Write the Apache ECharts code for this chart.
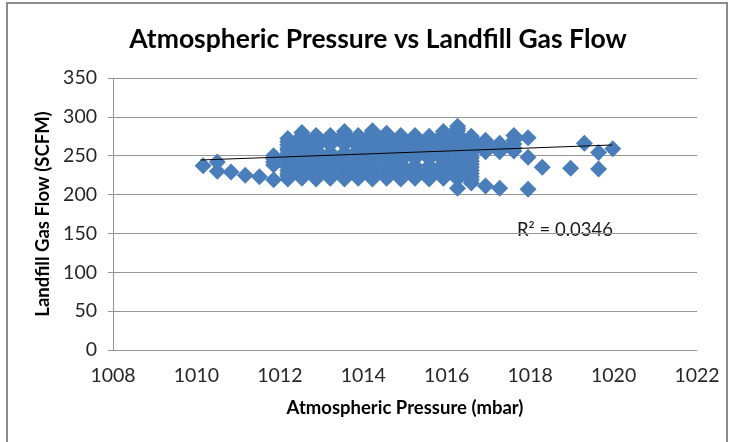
<!DOCTYPE html>
<html>
<head>
<meta charset="utf-8">
<script src="https://cdn.jsdelivr.net/npm/echarts@6/dist/echarts.min.js"></script>
<style>
  html, body { margin: 0; padding: 0; background: #fff; }
  #chart { width: 730px; height: 442px; }
</style>
</head>
<body>
<div id="chart"></div>
<script>
// ---- Data ----
const xTicks = [1008, 1010, 1012, 1014, 1016, 1018, 1020, 1022];
const yTicks = [0, 50, 100, 150, 200, 250, 300, 350];

// pressure columns (mbar) of the dense cloud
const colX = [1011.85, 1012.19, 1012.53, 1012.87, 1013.21, 1013.55, 1013.88, 1014.22,
              1014.56, 1014.90, 1015.24, 1015.58, 1015.92, 1016.26, 1016.59, 1016.93,
              1017.27, 1017.61, 1017.95];
// gas flow values (SCFM) observed in each column
const colY = [
  [219, 238, 242, 246, 250],
  [220, 224, 227, 231, 235, 238, 242, 246, 249, 253, 257, 260, 264, 268, 272],
  [221, 224, 228, 232, 235, 239, 243, 246, 250, 254, 258, 262, 265, 269, 273, 276, 280],
  [220, 224, 227, 231, 235, 239, 242, 246, 250, 254, 257, 261, 265, 269, 272, 276],
  [221, 224, 228, 232, 236, 239, 243, 247, 251, 254, 264, 267, 270, 273, 276],
  [220, 224, 228, 231, 235, 239, 243, 246, 250, 254, 264, 267, 271, 275, 278, 281],
  [221, 225, 228, 232, 236, 240, 243, 247, 251, 255, 258, 262, 266, 270, 273, 276],
  [220, 224, 228, 231, 235, 239, 243, 247, 250, 254, 258, 262, 266, 269, 273, 277, 280, 282],
  [221, 224, 228, 232, 236, 240, 244, 247, 251, 255, 259, 262, 266, 270, 274, 277, 279],
  [220, 224, 227, 231, 235, 239, 243, 246, 250, 254, 258, 262, 265, 269, 273, 276],
  [221, 225, 229, 233, 237, 246, 250, 254, 258, 262, 266, 269, 273, 276],
  [220, 224, 228, 232, 237, 246, 250, 253, 257, 261, 264, 268, 272, 275],
  [221, 225, 229, 232, 236, 240, 244, 248, 251, 255, 259, 263, 267, 270, 274, 278, 281],
  [208, 220, 224, 228, 232, 236, 240, 243, 247, 251, 255, 259, 263, 266, 270, 274, 278, 282, 285, 288],
  [215, 219, 223, 227, 231, 235, 239, 243, 247, 250, 254, 258, 262, 266, 270, 273, 275],
  [211, 255, 259, 263, 267, 270],
  [208, 255, 259, 262, 266],
  [256, 260, 265, 270, 276],
  [207, 248, 273]
];
// isolated points
const outlierX = [1010.16, 1010.50, 1010.50, 1010.83, 1011.17, 1011.51, 1018.29, 1018.97, 1019.30, 1019.64, 1019.64, 1019.98];
const outlierY = [237, 242, 230, 229, 225, 223, 235, 234, 266, 254, 233, 259];

// linear trendline end points as drawn
const trendX = [1010.1, 1019.97];
const trendY = [244.5, 263.8];
const r2Text = 'R² = 0.0346';

// ---- Build series data ----
const points = [];
colX.forEach((x, i) => colY[i].forEach(y => points.push([x, y])));
outlierX.forEach((x, i) => points.push([x, outlierY[i]]));
const trend = trendX.map((x, i) => [x, trendY[i]]);

const chart = echarts.init(document.getElementById('chart'), null, { renderer: 'canvas' });
const FONT = 'Lato';
chart.setOption({
  animation: false,
  backgroundColor: '#ffffff',
  title: {
    text: 'Atmospheric Pressure vs Landfill Gas Flow',
    left: 373, top: 21, textAlign: 'center',
    textStyle: { fontFamily: FONT, fontWeight: 'bold', fontSize: 26.5, color: '#000' }
  },
  grid: { left: 113, right: 33, top: 78, bottom: 92 },
  xAxis: {
    type: 'value', min: xTicks[0], max: xTicks[xTicks.length - 1], interval: 2,
    name: 'Atmospheric Pressure (mbar)', nameLocation: 'middle', nameGap: 49,
    nameTextStyle: { fontFamily: FONT, fontWeight: 'bold', fontSize: 18.5, color: '#000' },
    axisLine: { show: true, lineStyle: { color: '#959595', width: 1 } },
    axisTick: { show: false },
    splitLine: { show: false },
    axisLabel: { fontFamily: FONT, fontSize: 19.5, color: '#262626', margin: 16,
                 formatter: v => String(v) }
  },
  yAxis: {
    type: 'value', min: yTicks[0], max: yTicks[yTicks.length - 1], interval: 50,
    name: 'Landfill Gas Flow (SCFM)', nameLocation: 'middle', nameGap: 60, nameRotate: 90,
    nameTextStyle: { fontFamily: FONT, fontWeight: 'bold', fontSize: 18.5, color: '#000' },
    axisLine: { show: true, lineStyle: { color: '#959595', width: 1 } },
    axisTick: { show: true, inside: false, length: 5, lineStyle: { color: '#959595' } },
    splitLine: { show: true, lineStyle: { color: '#959595', width: 1 } },
    axisLabel: { fontFamily: FONT, fontSize: 19.5, color: '#262626', margin: 16,
                 formatter: v => String(v) }
  },
  series: [
    {
      type: 'scatter', data: points, symbol: 'diamond', symbolSize: 17,
      itemStyle: { color: '#4A7EBB', opacity: 1 }, z: 2
    },
    {
      type: 'line', data: trend, symbol: 'none', silent: true,
      lineStyle: { color: '#000', width: 1 }, z: 3
    }
  ],
  graphic: [
    {
      type: 'rect', silent: true,
      shape: { x: 7, y: 3, width: 720, height: 450 },
      style: { fill: 'none', stroke: '#8c8c8c', lineWidth: 2 }
    },
    {
      type: 'text', left: 517, top: 221, silent: true,
      style: { text: r2Text, fontFamily: FONT, fontSize: 18.5, fill: '#1a1a1a' }
    }
  ]
});
</script>
</body>
</html>
